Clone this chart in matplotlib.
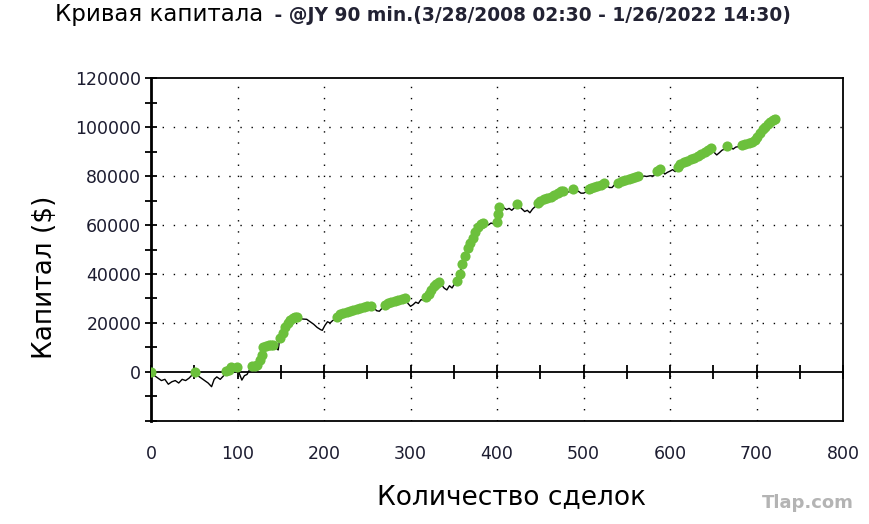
import numpy as np
import matplotlib
matplotlib.use('Agg')
import matplotlib.pyplot as plt
from matplotlib.ticker import MultipleLocator

# Номер сделки и капитал ($)
trade_no = [0, 4, 8, 12, 16, 20, 24, 28, 32, 36, 40, 44, 48, 51, 54, 58, 62, 66, 70, 73,
            76, 80, 84, 87, 90, 93, 96, 99, 102, 105, 108, 111, 114, 117, 120, 123, 126, 128, 130, 133,
            136, 139, 141, 144, 147, 149, 152, 155, 158, 161, 164, 167, 169, 172, 176, 180, 184, 188, 192, 196,
            198, 201, 204, 207, 210, 213, 215, 218, 222, 226, 230, 234, 238, 242, 246, 250, 254, 258, 261, 264,
            267, 270, 274, 278, 282, 286, 290, 294, 297, 300, 303, 306, 309, 312, 315, 318, 321, 324, 327, 330,
            333, 336, 339, 342, 345, 348, 351, 354, 357, 360, 363, 366, 369, 372, 375, 378, 381, 384, 387, 390,
            393, 396, 398, 400, 401, 402, 405, 408, 411, 414, 417, 420, 423, 426, 429, 432, 435, 438, 441, 444,
            447, 450, 454, 458, 462, 466, 470, 474, 476, 480, 484, 488, 491, 494, 497, 500, 503, 506, 509, 512,
            516, 520, 524, 527, 530, 533, 536, 540, 544, 548, 552, 556, 560, 563, 566, 570, 573, 577, 581, 585,
            588, 591, 594, 597, 600, 603, 606, 609, 612, 616, 620, 624, 628, 632, 636, 640, 644, 647, 650, 654,
            657, 660, 663, 666, 669, 673, 676, 679, 683, 687, 691, 695, 698, 701, 704, 707, 710, 713, 716, 719,
            721]
equity = [0, -1500, -2500, -3500, -3000, -5000, -4000, -3500, -4500, -3000, -3500, -2500, -1000, 0, -1500, -2500, -3500, -4500, -6000, -3000,
          -2000, -3000, -1500, 500, 1000, 2000, 1500, 2200, -500, -3300, -1500, -1000, 1000, 2300, 2500, 3000, 5000, 7000, 10000, 10500,
          11000, 11000, 11200, 10000, 9000, 14000, 16000, 18500, 20000, 21300, 22000, 22300, 22400, 21800, 21600, 21500, 20500, 19500, 18200, 17300,
          17000, 19000, 20500, 20000, 21000, 21500, 22600, 23500, 24000, 24600, 25000, 25400, 25800, 26200, 26500, 26800, 27000, 26000, 25000, 24800,
          26000, 27300, 28000, 28500, 29000, 29300, 29600, 30000, 28000, 26800, 27500, 28500, 28000, 29500, 29400, 30500, 32000, 33500, 35000, 36000,
          36800, 35500, 34200, 33500, 35200, 34300, 36000, 37300, 40000, 44000, 47500, 50500, 52600, 54500, 57000, 59000, 60300, 61000, 60500, 60000,
          60800, 60500, 60600, 61300, 64500, 67300, 66500, 67000, 66300, 66800, 66000, 67000, 68500, 67500, 66500, 65500, 66000, 65000, 66500, 67500,
          69000, 69800, 70500, 71000, 71500, 72300, 73000, 73800, 74000, 73300, 73600, 74500, 73500, 73800, 73000, 73000, 73500, 74800, 75200, 75500,
          75800, 76500, 77100, 76000, 75300, 75300, 76500, 77300, 77800, 78300, 78800, 79300, 79800, 80200, 79500, 80000, 79800, 80100, 80000, 82000,
          83000, 82000, 80800, 81500, 82000, 82600, 81800, 83500, 85000, 85800, 86300, 86800, 87500, 88200, 88800, 89600, 90500, 91300, 90000, 88600,
          89500, 90500, 91000, 92300, 91800, 91000, 91800, 92000, 92800, 93200, 93600, 94000, 94500, 96000, 97500, 99000, 100200, 101200, 102000, 102700,
          103200]

x_ticks = [0, 100, 200, 300, 400, 500, 600, 700, 800]
y_ticks = [0, 20000, 40000, 60000, 80000, 100000, 120000]

trade_no = np.array(trade_no)
equity = np.array(equity)
# зеленые точки - новые максимумы капитала
new_high = equity >= np.maximum.accumulate(equity)

fig = plt.figure(figsize=(8.69, 5.24), dpi=100)
ax = fig.add_axes([0.1738, 0.1966, 0.7963, 0.6545])

ax.plot(trade_no, equity, color='black', linewidth=1.0, zorder=3)
ax.plot(trade_no[new_high], equity[new_high], 'o', color='#6cc03c', markersize=7.3,
        markeredgewidth=0, zorder=4)

ax.set_xlim(0, 800)
ax.set_ylim(-20000, 120000)
ax.set_xticks(x_ticks)
ax.set_yticks(y_ticks)
ax.yaxis.set_minor_locator(MultipleLocator(10000))

lbl_color = '#1c1c30'
ax.tick_params(axis='x', length=0, pad=17, labelsize=12.5, labelcolor=lbl_color)
ax.tick_params(axis='y', which='both', direction='inout', length=8, width=1.3,
               pad=3, labelsize=12.5, labelcolor=lbl_color)

# пунктирная сетка
for xv in x_ticks[1:-1]:
    ax.axvline(xv, color='black', linewidth=1.0, linestyle=(0, (1, 7)), zorder=1)
for yv in y_ticks[1:-1]:
    ax.axhline(yv, color='black', linewidth=1.0, linestyle=(0, (1, 7)), zorder=1)

# ось на нуле с засечками
zero_ax = ax.secondary_xaxis(20000 / 140000)
zero_ax.spines['bottom'].set_linewidth(1.3)
zero_ax.set_xticks(np.arange(0, 801, 50))
zero_ax.tick_params(direction='inout', length=10, width=1.3, labelbottom=False)

for side in ['top', 'right', 'bottom']:
    ax.spines[side].set_linewidth(1.3)
ax.spines['left'].set_linewidth(2.0)

fig.text(0.063, 0.972, 'Кривая капитала', fontsize=16.5, color='black',
         ha='left', va='center', family='DejaVu Sans')
fig.text(0.308, 0.970, ' - @JY 90 min.(3/28/2008 02:30 - 1/26/2022 14:30)', fontsize=13.4,
         fontweight='bold', color='#222233', ha='left', va='center', family='DejaVu Sans')

fig.text(0.052, 0.47, 'Капитал ($)', fontsize=19, rotation=90, ha='center', va='center')
fig.text(0.589, 0.052, 'Количество сделок', fontsize=19, ha='center', va='center')
fig.text(0.93, 0.04, 'Tlap.com', fontsize=13, fontweight='bold', color='#b4b4b4',
         ha='center', va='center')

plt.savefig('out.png', dpi=100)
plt.close(fig)
